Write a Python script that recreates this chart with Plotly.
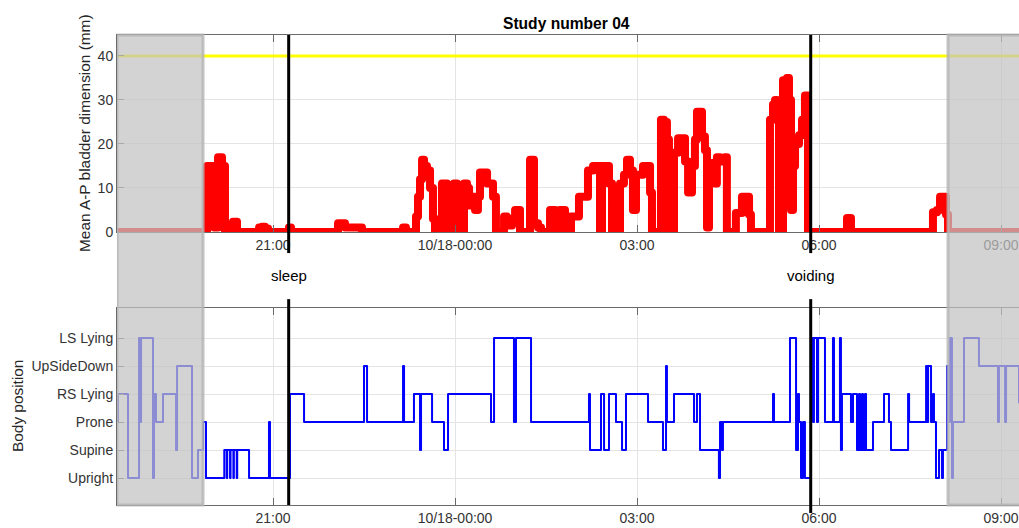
import pandas as pd
import plotly.graph_objects as go

# ---------------------------------------------------------------- data
START = pd.Timestamp("2018-10-17 21:00")

# mean A-P bladder dimension (mm), sampled at minutes after 21:00
bladder_min = [-154.3, -69.2, -67.3, -65.3, -60.3, -58.3, -56.4, -54.4, -52.4, -50.4, -47.5, -41.5,
               -39.6, -37.6, -35.6, -15.8, -13.8, -10.9, -7.9, -4.9, 13.8, 15.8, 17.8, 61.3, 64.3,
               68.2, 71.2, 78.1, 84.1, 88.0, 125.6, 128.6, 131.5, 138.5, 141.4, 143.4, 145.4, 147.4,
               149.4, 152.3, 155.3, 158.2, 160.2, 165.2, 167.1, 170.1, 172.1, 177.0, 179.0, 182.0,
               183.0, 187.0, 188.9, 191.9, 193.9, 196.8, 199.8, 202.7, 204.7, 209.7, 211.7, 214.6,
               217.6, 220.5, 226.5, 228.5, 231.5, 236.4, 239.4, 242.3, 244.3, 253.2, 254.2, 256.2,
               258.1, 262.1, 265.1, 272.0, 274.0, 276.9, 278.9, 281.8, 283.8, 286.8, 288.8, 292.7,
               294.7, 299.7, 302.6, 307.6, 311.5, 316.5, 320.4, 323.4, 325.4, 329.3, 332.3, 335.3,
               341.2, 343.2, 347.1, 350.1, 353.1, 356.0, 359.0, 362.9, 365.9, 369.9, 372.9, 374.8,
               380.8, 383.7, 386.7, 389.6, 391.6, 394.6, 396.6, 400.6, 404.5, 407.5, 410.5, 414.4,
               417.3, 419.3, 422.3, 424.3, 427.2, 429.2, 431.2, 435.1, 437.1, 439.0, 442.1, 446.9,
               448.9, 455.8, 457.8, 460.7, 463.8, 468.8, 470.8, 472.7, 489.6, 491.5, 494.5, 496.5,
               498.4, 500.4, 502.4, 504.4, 508.3, 510.3, 512.3, 514.3, 516.3, 520.2, 523.2, 526.1,
               528.1, 529.1, 565.7, 567.7, 569.7, 571.6, 650.8, 652.7, 656.7, 659.7, 662.6, 665.6,
               667.6, 737.8]
bladder_mm = [0, 0, 0, 15, 15, 1, 1, 17, 17, 15, 0, 0,
              2.3, 2.3, 0, 0, 1, 1.2, 0.8, 0, 0, 1, 0, 0, 2,
              2, 1, 1, 1, 0, 0, 1, 0, 0, 3.5, 8, 12, 16.4,
              15, 14, 10, 3, 0, 0, 11, 11, 0, 0, 11, 10,
              0, 0, 11, 10, 6, 8, 5, 8, 13.5, 13.5, 11, 11,
              8, 0, 0, 3.5, 1.5, 3, 5, 5, 0, 0, 16.4, 16.4,
              2, 1, 0, 0, 5, 5, 0, 0, 5, 5, 0, 0,
              3.5, 3.5, 8, 8, 14, 15, 15, 0, 15, 15, 11, 0,
              0, 11, 13, 16.4, 14, 5, 13, 13, 15, 15, 9, 0,
              0, 25.5, 25, 21, 0, 0, 18, 21.3, 21.3, 16, 9, 15,
              21, 27.3, 27.3, 21.7, 18.6, 1, 15.7, 15.7, 11, 17, 16, 17,
              0, 0, 4.3, 4.3, 8, 8, 4, 0, 0, 25.5, 29, 30,
              29, 0, 0, 34.5, 35, 30, 5, 15, 20, 22, 25.5, 31,
              31, 0, 0, 3.2, 3.2, 0, 0, 4.5, 5, 8, 8, 4,
              0, 0]

# body position code, sampled at minutes after 21:00
posture_min = [-154.3, -153.3, -144.4, -143.4, -133.5, -132.5, -131.5, -130.5, -119.7, -118.7,
               -117.7, -115.7, -109.8, -108.8, -96.9, -95.9, -94.9, -81.1, -80.1, -75.2, -74.2,
               -70.2, -69.2, -67.3, -66.3, -49.4, -48.2, -45.8, -45.3, -42.5, -42.0, -39.2, -38.7,
               -35.9, -35.4, -24.7, -23.7, -4.9, -4.0, -3.0, 14.8, 16.8, 29.7, 30.7, 89.0, 90.0,
               92.0, 93.0, 127.6, 128.6, 129.6, 138.5, 139.4, 144.4, 145.4, 146.4, 156.3, 157.3,
               168.1, 169.1, 172.1, 173.1, 214.6, 215.6, 217.6, 218.6, 237.4, 238.3, 240.3, 254.2,
               255.2, 311.5, 312.5, 313.5, 323.4, 324.4, 326.4, 327.4, 331.3, 332.3, 338.2, 339.2,
               344.2, 345.2, 348.1, 349.1, 369.9, 370.9, 384.7, 385.7, 387.7, 388.7, 389.6, 395.6,
               396.6, 415.4, 416.4, 418.3, 419.3, 421.3, 422.3, 440.1, 441.0, 442.1, 444.0, 445.0,
               493.5, 494.5, 495.5, 510.3, 511.3, 516.3, 517.3, 519.2, 520.2, 522.2, 524.2, 526.1,
               531.1, 532.1, 534.1, 535.0, 537.0, 538.0, 539.0, 544.9, 545.9, 552.9, 553.8, 554.8,
               559.8, 560.7, 561.7, 562.7, 569.6, 571.6, 573.6, 576.6, 577.6, 579.6, 580.6, 582.6,
               583.5, 585.5, 586.5, 592.4, 593.4, 603.3, 604.3, 608.3, 609.2, 610.2, 611.2, 627.1,
               628.1, 629.1, 644.9, 645.9, 646.9, 647.9, 649.8, 650.8, 652.7, 653.7, 655.7, 657.7,
               658.7, 660.7, 661.6, 662.6, 665.6, 666.6, 668.6, 669.6, 670.6, 671.5, 672.5, 682.4,
               683.4, 697.2, 698.2, 716.0, 717.0, 718.0, 723.0, 724.0, 725.0, 729.9, 737.8]
posture_code = [3, 4, 4, 1, 1, 6, 3, 6, 6, 1,
                4, 3, 3, 4, 4, 2, 5, 5, 1, 1, 2,
                2, 3, 3, 1, 1, 2, 1, 2, 1, 2, 1, 2,
                1, 2, 2, 1, 1, 3, 1, 1, 4, 4, 3, 3, 5,
                5, 3, 3, 5, 3, 3, 4, 4, 2, 4, 4, 3,
                3, 2, 2, 4, 4, 3, 3, 6, 6, 3, 6, 6,
                3, 3, 4, 2, 2, 4, 4, 2, 2, 4, 4, 3,
                3, 2, 2, 4, 4, 3, 3, 2, 2, 5, 3, 3,
                4, 4, 3, 3, 4, 4, 2, 2, 1, 3, 2, 3,
                3, 4, 3, 3, 6, 6, 2, 4, 3, 1, 3, 1,
                1, 6, 3, 6, 6, 3, 6, 6, 3, 3, 6, 3,
                3, 6, 2, 4, 4, 3, 4, 4, 2, 4, 2, 4,
                2, 4, 2, 2, 3, 3, 4, 4, 3, 3, 2, 2,
                4, 3, 3, 5, 3, 5, 5, 3, 4, 3, 1, 1,
                2, 2, 1, 2, 2, 5, 3, 6, 6, 1, 3, 3,
                6, 6, 5, 5, 3, 5, 5, 3, 5, 5, 3.7]

position_codes = [1, 2, 3, 4, 5, 6]
position_labels = ["Upright", "Supine", "Prone", "RS Lying", "UpSideDown", "LS Lying"]

threshold_mm = 40

event_names = ["sleep", "voiding"]
event_min = [15.5, 531.8]

view_min = [-154.3, 737.8]        # displayed time span
monitored_min = [-69.2, 667.6]    # analysed interval (outside it is greyed)

tick_times = ["2018-10-17 21:00", "2018-10-18 00:00", "2018-10-18 03:00",
              "2018-10-18 06:00", "2018-10-18 09:00"]
tick_text = ["21:00", "10/18-00:00", "03:00", "06:00", "09:00"]

title_text = "Study number 04"


def at(minutes):
    return START + pd.to_timedelta(minutes, unit="min")


# ---------------------------------------------------------------- figure
FONT = "Liberation Sans, Arial, sans-serif"
TICK_COLOR = "#333333"
GRID = "#e4e4e4"
AXIS_LINE = "#6a6a6a"

# vertical layout (paper units): lower panel [0, 0.419], upper panel [0.581, 1]
top_dom = [0.5809, 1.0]
bot_dom = [0.0, 0.4191]

fig = go.Figure()

fig.add_trace(go.Scatter(
    x=at(view_min), y=[threshold_mm, threshold_mm], mode="lines",
    line=dict(color="#ffff00", width=3), xaxis="x", yaxis="y", hoverinfo="skip"))
fig.add_trace(go.Scatter(
    x=at(bladder_min), y=bladder_mm, mode="lines",
    line=dict(color="#ff0000", width=8, shape="hv"), xaxis="x", yaxis="y"))
fig.add_trace(go.Scatter(
    x=at(posture_min), y=posture_code, mode="lines",
    line=dict(color="#0000ff", width=2, shape="hv"), xaxis="x2", yaxis="y2"))

xaxis_common = dict(
    type="date", range=[at(view_min[0]), at(view_min[1])],
    tickvals=pd.to_datetime(tick_times), ticktext=tick_text,
    ticks="inside", ticklen=7, tickcolor=AXIS_LINE, tickwidth=1,
    showline=True, linecolor=AXIS_LINE, linewidth=1, mirror="ticks",
    showgrid=True, gridcolor=GRID, gridwidth=1, zeroline=False,
    tickfont=dict(family=FONT, size=14, color=TICK_COLOR),
)
yaxis_common = dict(
    ticks="inside", ticklen=7, tickcolor=AXIS_LINE,
    showline=True, linecolor=AXIS_LINE, linewidth=1, mirror=False,
    showgrid=True, gridcolor=GRID, zeroline=False,
    tickfont=dict(family=FONT, size=14, color=TICK_COLOR),
)

fig.update_layout(
    width=1019, height=528, autosize=False,
    margin=dict(l=117, r=0, t=35, b=23),
    paper_bgcolor="white", plot_bgcolor="white",
    showlegend=False,
    xaxis=dict(anchor="y", **xaxis_common),
    xaxis2=dict(anchor="y2", matches="x", **xaxis_common),
    yaxis=dict(domain=top_dom, range=[0, 44.77],
               tickvals=[0, 10, 20, 30, 40], **yaxis_common),
    yaxis2=dict(domain=bot_dom, range=[0.04, 7.07],
                tickvals=position_codes, ticktext=position_labels, **yaxis_common),
)

shapes = []
# greyed-out spans before / after the analysed interval, drawn over the data
for x0, x1 in [(view_min[0], monitored_min[0]), (monitored_min[1], view_min[1] + 5)]:
    shapes.append(dict(
        type="rect", xref="x", yref="paper", x0=at(x0), x1=at(x1), y0=0, y1=1,
        fillcolor="rgba(194,194,194,0.72)",
        line=dict(color="rgba(180,180,180,0.8)", width=3), layer="above"))

# event markers spanning both panels
event_bottom = [0.0, -0.017]
for m, yb in zip(event_min, event_bottom):
    t = at(m)
    shapes.append(dict(type="line", xref="x", yref="paper", x0=t, x1=t, y0=0.536, y1=1,
                       line=dict(color="black", width=3), layer="above"))
    shapes.append(dict(type="line", xref="x", yref="paper", x0=t, x1=t, y0=yb, y1=0.438,
                       line=dict(color="black", width=3), layer="above"))
fig.update_layout(shapes=shapes)

annotations = [
    dict(text=f"<b>{title_text}</b>", xref="paper", yref="paper", x=0.4978, y=1.0255,
         xanchor="center", yanchor="middle", showarrow=False,
         font=dict(family=FONT, size=15.6, color="black")),
    dict(text="Mean A-P bladder dimension (mm)", xref="paper", yref="paper",
         x=-0.0355, y=0.7915, xanchor="center", yanchor="middle", textangle=-90,
         showarrow=False, font=dict(family=FONT, size=15.4, color="#262626")),
    dict(text="Body position", xref="paper", yref="paper",
         x=-0.1109, y=0.2106, xanchor="center", yanchor="middle", textangle=-90,
         showarrow=False, font=dict(family=FONT, size=15.4, color="#262626")),
]
for name, m in zip(event_names, event_min):
    annotations.append(dict(text=name, xref="x", yref="paper", x=at(m), y=0.489,
                            xanchor="center", yanchor="middle", showarrow=False,
                            font=dict(family=FONT, size=15, color="black")))
fig.update_layout(annotations=annotations)

# rounded joins and caps on the data lines
round_lines = (
    "var gd=document.getElementById('{plot_id}');"
    "gd.querySelectorAll('.scatterlayer path.js-line').forEach(function(p){"
    "p.style.strokeLinejoin='round';p.style.strokeLinecap='round';});"
)
fig.write_html("out.html", post_script=round_lines)
